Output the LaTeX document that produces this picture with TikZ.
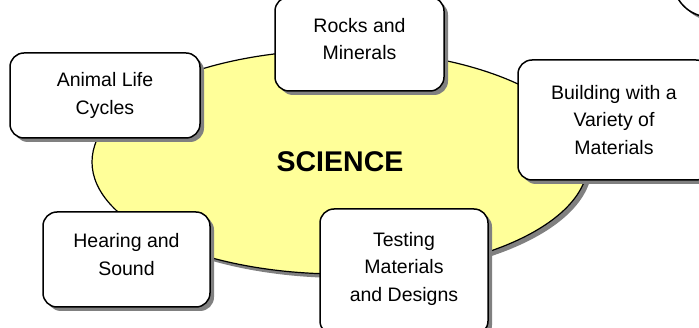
\documentclass[tikz,border=0pt]{standalone}
\usepackage{fontspec}
\setmainfont{Liberation Sans}
\usetikzlibrary{shapes.geometric,shadows}
\definecolor{paleyellow}{RGB}{255,255,153}

\begin{document}
\begin{tikzpicture}[x=1pt, y=-1pt,
	boxshadow/.style={drop shadow={shadow xshift=4pt, shadow yshift=-4pt, fill=gray, opacity=1}},
	topic/.style={draw, line width=1.5pt, fill=white, rounded corners=14pt, align=center,
		font=\fontsize{19.5}{27.5}\selectfont, boxshadow},
	hub/.style={draw, ellipse, line width=1.2pt, fill=paleyellow,
		font=\bfseries\fontsize{28.5}{30}\selectfont, boxshadow}]

	\useasboundingbox (0,0) rectangle (699,328);

	\node[hub, minimum width=496pt, minimum height=224pt] (science) at (340,162) {SCIENCE};

	\node[draw, circle, line width=1.5pt, fill=white, minimum size=74pt, boxshadow] (corner) at (710,-20) {};

	\node[topic, minimum width=169pt, minimum height=94pt] (rocks) at (359.5,44) {Rocks and\\Minerals\\[-17pt]};
	\node[topic, minimum width=190pt, minimum height=85pt] (animal) at (105,95.5) {Animal Life\\Cycles};
	\node[topic, minimum width=192pt, minimum height=120pt] (building) at (614,120) {Building with a\\Variety of\\Materials};
	\node[topic, minimum width=167pt, minimum height=95pt] (hearing) at (126.5,259.5) {Hearing and\\Sound\\[-17pt]};
	\node[topic, minimum width=168pt, minimum height=126pt] (testing) at (404,272) {Testing\\Materials\\and Designs\\[-17pt]};

\end{tikzpicture}
\end{document}
